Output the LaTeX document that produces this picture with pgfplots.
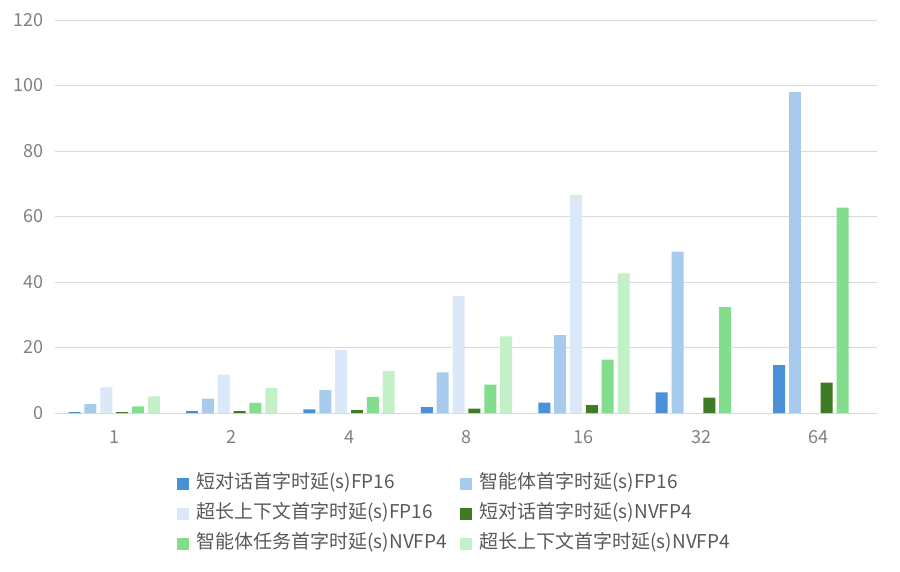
\documentclass[border=0pt]{standalone}
\usepackage{fontspec}
\setmainfont{Noto Sans CJK SC}
\usepackage{pgfplots}
\pgfplotsset{compat=1.18}
\definecolor{cA}{HTML}{4A90D9}
\definecolor{cB}{HTML}{A8CAEC}
\definecolor{cC}{HTML}{DAE8F7}
\definecolor{cD}{HTML}{3E7B22}
\definecolor{cE}{HTML}{82DE8C}
\definecolor{cF}{HTML}{C3F0C7}
\definecolor{gridg}{HTML}{D9D9D9}
\definecolor{tickg}{HTML}{808080}
\definecolor{legg}{HTML}{595959}
\begin{document}
\begin{tikzpicture}[x=1pt,y=1pt]
\path[use as bounding box] (0,0) rectangle (900,-572);
\begin{axis}[
  at={(55.5pt,-413pt)}, anchor=south west,
  scale only axis, width=822pt, height=393pt,
  xmin=-0.5, xmax=6.5, ymin=0, ymax=120,
  ytick={0,20,...,120},
  xtick={0,...,6}, xticklabels={1,2,4,8,16,32,64},
  ymajorgrids, grid style={draw=gridg, line width=0.9pt},
  axis y line=left,
  axis x line=bottom,
  y axis line style={draw=none},
  x axis line style={draw=gridg, line width=1pt, -},
  major tick length=0pt,
  /pgf/number format/assume math mode=true,
  ticklabel style={text=tickg, font=\fontsize{18}{18}\selectfont},
  yticklabel style={inner sep=0pt, anchor=east, xshift=-12pt},
  xticklabel style={inner sep=0pt, anchor=north, yshift=-17pt},
  bar width=0.102,
  legend columns=2,
  legend cell align=left,
  legend image code/.code={\fill[#1] (0pt,-6pt) rectangle (12pt,6pt);},
  legend style={
    at={(rel axis cs:0.147,-0.158)}, anchor=north west,
    draw=none, fill=none, inner sep=0pt,
    font=\fontsize{19}{19}\selectfont, text=legg,
    row sep=13pt,
    nodes={inner sep=0pt, text height=13pt, text depth=4pt, anchor=west},
    /tikz/every odd column/.style={column sep=8pt},
    /tikz/every even column/.style={column sep=0pt, text width=263pt},
  },
]
\addplot[ybar, fill=cA, draw=none, bar shift=-0.3375] coordinates {(0,0.3)(1,0.6)(2,1.1)(3,1.8)(4,3.2)(5,6.3)(6,14.6)};
\addlegendentry{短对话首字时延(s)FP16}
\addplot[ybar, fill=cB, draw=none, bar shift=-0.2025] coordinates {(0,2.7)(1,4.4)(2,7.0)(3,12.4)(4,23.8)(5,49.3)(6,98.0)};
\addlegendentry{智能体首字时延(s)FP16}
\addplot[ybar, fill=cC, draw=none, bar shift=-0.0675] coordinates {(0,7.8)(1,11.7)(2,19.3)(3,35.7)(4,66.5)};
\addlegendentry{超长上下文首字时延(s)FP16}
\addplot[ybar, fill=cD, draw=none, bar shift=0.0675] coordinates {(0,0.3)(1,0.6)(2,0.9)(3,1.3)(4,2.4)(5,4.7)(6,9.3)};
\addlegendentry{短对话首字时延(s)NVFP4}
\addplot[ybar, fill=cE, draw=none, bar shift=0.2025] coordinates {(0,2.0)(1,3.1)(2,4.9)(3,8.7)(4,16.3)(5,32.3)(6,62.7)};
\addlegendentry{智能体任务首字时延(s)NVFP4}
\addplot[ybar, fill=cF, draw=none, bar shift=0.3375] coordinates {(0,5.1)(1,7.7)(2,12.8)(3,23.4)(4,42.6)};
\addlegendentry{超长上下文首字时延(s)NVFP4}
\end{axis}
\end{tikzpicture}
\end{document}
